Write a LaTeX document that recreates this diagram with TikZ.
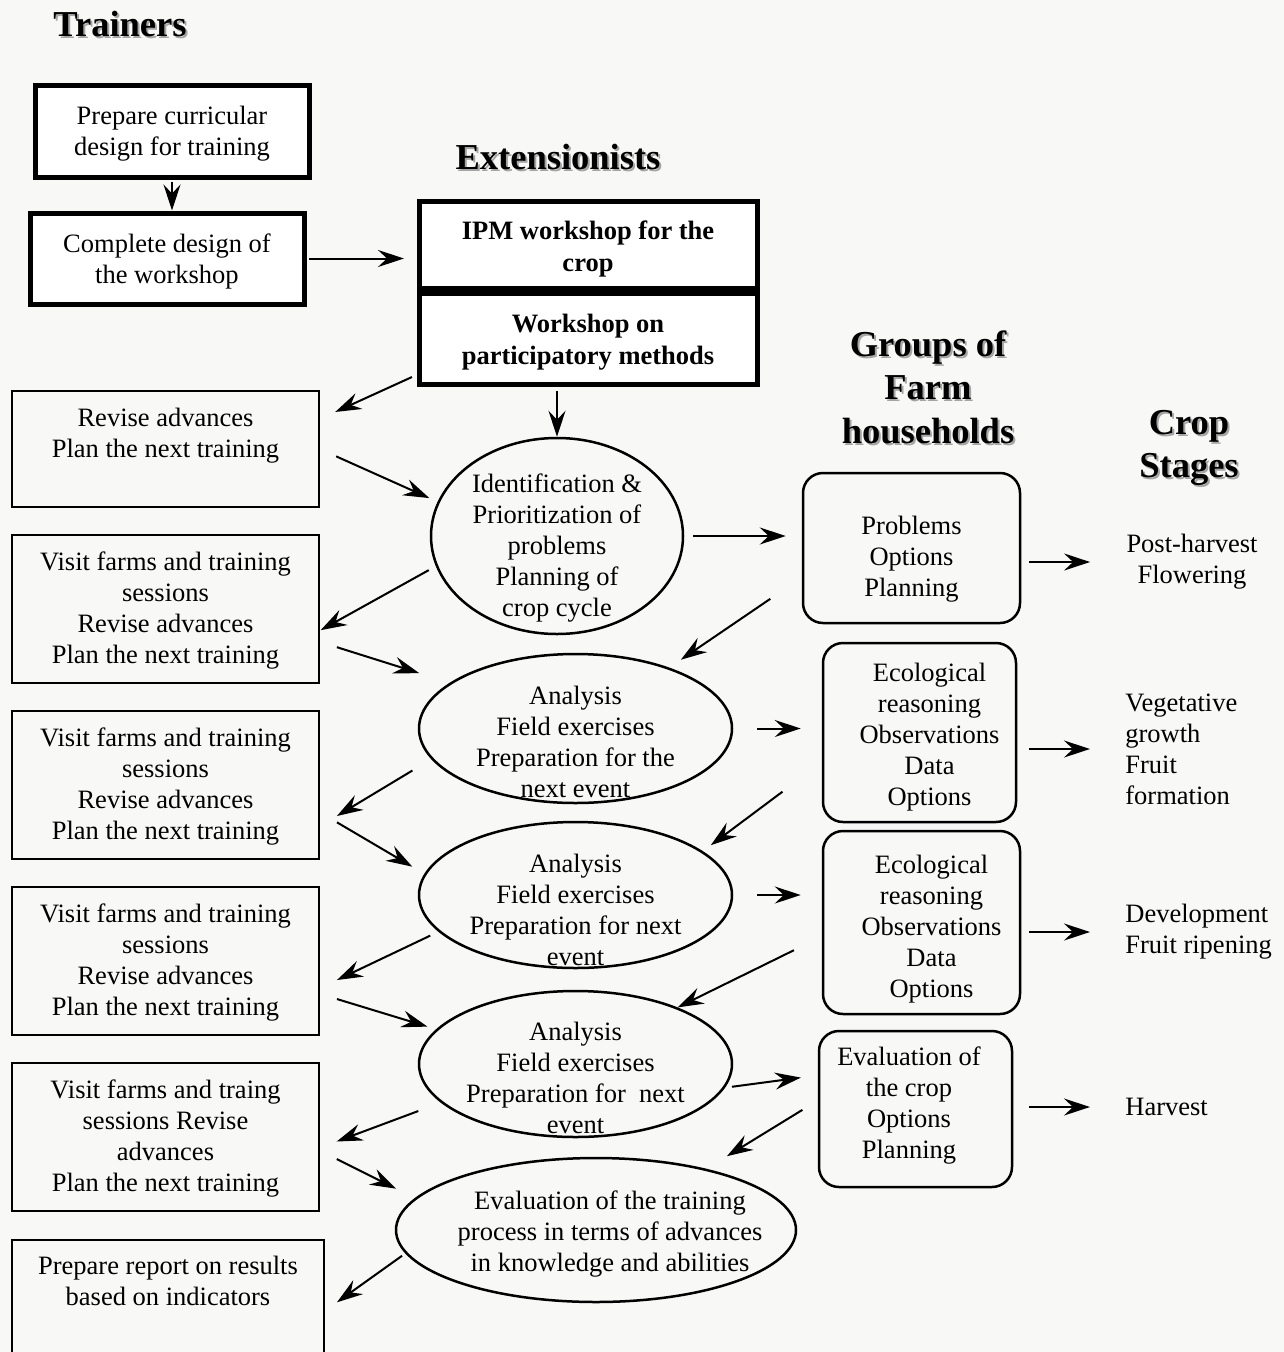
\documentclass[tikz,border=0pt]{standalone}
\usepackage{fontspec}
\setmainfont{Liberation Serif}
\usetikzlibrary{arrows.meta,shapes.geometric}

\definecolor{bgcol}{RGB}{248,248,246}
\definecolor{shadegray}{RGB}{165,165,165}
\newcommand\bodyfont{\fontsize{26.5}{31}\selectfont}
\newcommand\boldfont{\fontsize{26.5}{32}\selectfont\bfseries}
\newcommand\headfont{\fontsize{36.5}{43.5}\selectfont\bfseries}
% header line with its grey drop shadow
\newcommand\shd[1]{\rlap{\kern2pt\raisebox{-2pt}{\textcolor{shadegray}{#1}}}#1}
% text of an oval, kept from growing the oval
\newcommand\etxt[2][-23pt]{\makebox[0pt]{\raisebox{#1}[0pt][0pt]{\begin{tabular}{@{}c@{}}#2\end{tabular}}}}
% push a line of a farm box right / left
\newcommand\rs{\hspace*{20pt}}
\newcommand\ls{\hspace*{-13pt}}

\tikzset{every picture/.style={line width=0.75pt}}
\tikzset{
  heavybox/.style={draw, line width=5pt, fill=white, align=center, inner sep=0pt, text height=55pt},
  plainbox/.style={draw, line width=1.5pt, align=center, text height=115pt},
  roundbox/.style={draw, line width=2.5pt, rounded corners=20pt, align=center},
  oval/.style={draw, ellipse, line width=2.5pt, inner sep=0pt},
  stage/.style={inner sep=0pt},
  head/.style={font=\headfont, align=center},
  arr/.style={line width=2pt, -{Stealth[length=26pt,width=17pt,inset=9pt]}},
}

\begin{document}
\begin{tikzpicture}[x=1pt,y=1pt,yscale=-1,xscale=1,font=\bodyfont]
\useasboundingbox (0,0) rectangle (1284,1352);
\clip (0,0) rectangle (1284,1352);
\fill [bgcol] (0,0) rectangle (1284,1352);

% Headers
\node [head] (hTrain) at (120,25) {\shd{Trainers}};
\node [head] (hExt) at (558,158) {\shd{Extensionists}};
\node [head] (hGroup) at (928,388) {\shd{Groups of}\\\shd{Farm}\\\shd{households}};
\node [head] (hCrop) at (1189,449) {\shd{Crop}\\\shd{Stages}};

% Trainers boxes
\node [heavybox, minimum width=274pt, minimum height=92pt] (B1) at (172,131) {Prepare curricular\\design for training};
\node [heavybox, minimum width=274pt, minimum height=91pt] (B2) at (167,258.5) {Complete design of\\the workshop};

% Extensionists boxes
\node [heavybox, font=\boldfont, minimum width=338pt, minimum height=87pt, text height=60pt] (X1) at (588,244.5) {IPM workshop for the\\crop};
\node [heavybox, font=\boldfont, minimum width=338pt, minimum height=91pt, text height=58pt] (X2) at (588,338.5) {Workshop on\\participatory methods};

% Left column
\node [plainbox, minimum width=307pt, minimum height=116pt, text height=88pt] (L1) at (165.5,449) {Revise advances\\Plan the next training\\\strut};
\node [plainbox, minimum width=307pt, minimum height=148pt] (L2) at (165.5,609) {Visit farms and training\\sessions\\Revise advances\\Plan the next training};
\node [plainbox, minimum width=307pt, minimum height=148pt] (L3) at (165.5,785) {Visit farms and training\\sessions\\Revise advances\\Plan the next training};
\node [plainbox, minimum width=307pt, minimum height=148pt] (L4) at (165.5,961) {Visit farms and training\\sessions\\Revise advances\\Plan the next training};
\node [plainbox, minimum width=307pt, minimum height=148pt] (L5) at (165.5,1137) {Visit farms and traing\\sessions Revise\\advances\\Plan the next training};
\node [plainbox, minimum width=312pt, minimum height=148pt, text height=117pt, anchor=north] (L6) at (168,1239) {Prepare report on results\\based on indicators\\\strut\\\strut};

% Ovals
\node [oval, minimum width=252pt, minimum height=196pt] (E1) at (557,536) {\etxt[-19pt]{Identification \&\\Prioritization of\\problems\\Planning of\\crop cycle}};
\node [oval, minimum width=313pt, minimum height=149pt] (E2) at (575.5,728.5) {\etxt{Analysis\\Field exercises\\Preparation for the\\next event}};
\node [oval, minimum width=313pt, minimum height=146pt] (E3) at (575.5,895) {\etxt[-24pt]{Analysis\\Field exercises\\Preparation for next\\event}};
\node [oval, minimum width=313pt, minimum height=146pt] (E4) at (575.5,1064) {\etxt{Analysis\\Field exercises\\Preparation for~ next\\event}};
\node [oval, minimum width=400pt, minimum height=144pt] (E5) at (596,1230) {\kern28pt\etxt[-10.5pt]{Evaluation of the training\\process in terms of advances\\in knowledge and abilities}};

% Farm household boxes
\node [roundbox, minimum width=217pt, minimum height=150pt, text height=102pt] (R1) at (911.5,548) {Problems\\Options\\Planning};
\node [roundbox, minimum width=193pt, minimum height=179pt, text height=152pt] (R2) at (919.5,732.5) {\rs Ecological\\\rs reasoning\\\rs Observations\\\rs Data\\\rs Options};
\node [roundbox, minimum width=197pt, minimum height=183pt, text height=156pt] (R3) at (921.5,922.5) {\rs Ecological\\\rs reasoning\\\rs Observations\\\rs Data\\\rs Options};
\node [roundbox, minimum width=193pt, minimum height=156pt, text depth=12pt] (R4) at (915.5,1109) {\ls Evaluation of\\\ls the crop\\\ls Options\\\ls Planning};

% Crop stages
\node [stage, align=center] (S1) at (1192,562) {Post-harvest\\Flowering};
\node [stage, align=left, anchor=west] (S2) at (1125,749) {Vegetative\\growth\\Fruit\\formation};
\node [stage, align=left, anchor=west] (S3) at (1125,932) {Development\\Fruit ripening};
\node [stage, anchor=west] (S4) at (1125,1107) {Harvest};

%Straight Lines (top)
\draw [arr, shorten <=2pt] (B1.south) -- (B1.south |- B2.north);
\draw [arr, shorten <=2.5pt, shorten >=12.5pt] (B2.east) -- (B2.east -| X1.west);
\draw [arr, shorten <=4.5pt] (E1.north |- X2.south) -- (E1.north);
\draw [arr, shorten <=5pt, shorten >=17pt] (X2.192) -- (L1.11);

%Straight Lines (left zigzag)
\draw [arr, shorten <=18pt, shorten >=9pt] (L1.east) -- (E1.164);
\draw [arr, shorten <=8pt, shorten >=1pt] (E1.194) -- (L2.352);
\draw [arr, shorten <=18pt, shorten >=32pt] (L2.348) -- (E2.160);
\draw [arr, shorten <=22pt, shorten >=20pt] (E2.192) -- (L3.345);
\draw [arr, shorten <=20pt, shorten >=14pt] (L3.350) -- (E3.172);
\draw [arr, shorten <=9pt, shorten >=19pt] (E3.195) -- (L4.350);
\draw [arr, shorten <=18pt, shorten >=9pt] (L4.348) -- (E4.166);
\draw [arr, shorten <=24pt, shorten >=18pt] (E4.196) -- (L5.356);
\draw [arr, shorten <=19pt, shorten >=21pt] (L5.355) -- (E5.170);
\draw [arr, shorten <=4pt, shorten >=15pt] (E5.187) -- (L6.1);

%Straight Lines (right zigzag)
\draw [arr, shorten <=9pt, shorten >=16pt] (E1.east) -- (E1.east -| R1.west);
\draw [arr, shorten <=38pt, shorten >=14pt] (R1.195.5) -- (E2.33.8);
\draw [arr, shorten <=24pt, shorten >=21pt] (E2.east) -- (E2.east -| R2.west);
\draw [arr, shorten <=49pt, shorten >=10pt] (R2.197.8) -- (E3.19.4);
\draw [arr, shorten <=24pt, shorten >=21pt] (E3.east) -- (E3.east -| R3.west);
\draw [arr, shorten <=31pt] (R3.188) -- (E4.29.1);
\draw [arr, shorten <=7pt, shorten >=17pt] (E4.351.6) -- (R4.161.8);
\draw [arr, shorten <=18pt, shorten >=24pt] (R4.175) -- (E5.29.5);

%Straight Lines (crop stages)
\draw [arr, shorten <=8pt, shorten >=36pt] (S1.west -| R1.east) -- (S1.west);
\draw [arr, shorten <=12pt, shorten >=35pt] (S2.west -| R2.east) -- (S2.west);
\draw [arr, shorten <=8pt, shorten >=35pt] (S3.west -| R3.east) -- (S3.west);
\draw [arr, shorten <=16pt, shorten >=35pt] (S4.west -| R4.east) -- (S4.west);

\end{tikzpicture}
\end{document}
